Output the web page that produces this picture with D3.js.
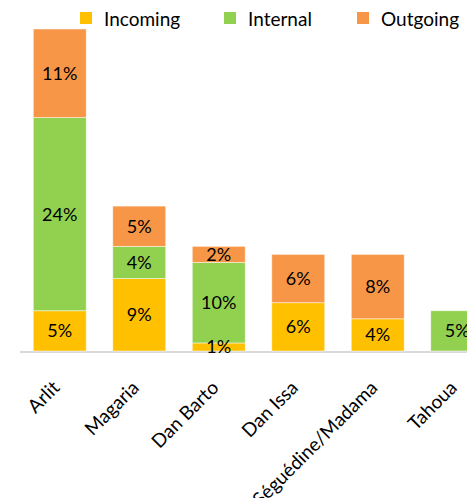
<!DOCTYPE html>
<html>
<head>
<meta charset="utf-8">
<script src="https://cdn.jsdelivr.net/npm/d3@7"></script>
<style>
  body { margin: 0; background: #fff; }
  svg { display: block; font-family: Lato, "Open Sans", sans-serif; }
</style>
</head>
<body>
<div id="chart"></div>
<script>
const WIDTH = 467;
const HEIGHT = 498;

const locations = ['Arlit', 'Magaria', 'Dan Barto', 'Dan Issa', 'Séguédine/Madama', 'Tahoua'];
const seriesNames = ['Incoming', 'Internal', 'Outgoing'];
const seriesColors = ['#FFC000', '#92D050', '#F79646'];

// percentages per location, 0 = no segment
const incoming = [5, 9, 1, 6, 4, 0];
const internal = [24, 4, 10, 0, 0, 5];
const outgoing = [11, 5, 2, 6, 8, 0];

let rows = locations.map(function(loc, i) {
  return {'loc': loc, 'Incoming': incoming[i], 'Internal': internal[i], 'Outgoing': outgoing[i]};
});

let svg = d3.select('#chart').append('svg')
    .attr('width', WIDTH)
    .attr('height', HEIGHT);

let xScale = d3.scaleBand()
    .domain(locations)
    .range([20, 497])
    .paddingInner(0.334)
    .paddingOuter(0.167);

let yScale = d3.scaleLinear()
    .domain([0, 40])
    .range([351, 29]);

let color = d3.scaleOrdinal().domain(seriesNames).range(seriesColors);

let stacked = d3.stack().keys(seriesNames)(rows);
let segments = [];
stacked.forEach(function(s) {
  s.forEach(function(d) {
    if (d[1] > d[0]) segments.push({'key': s.key, 'loc': d.data.loc, 'y0': d[0], 'y1': d[1]});
  });
});

// baseline, under the bars
svg.append('line')
    .attr('x1', 20).attr('x2', WIDTH)
    .attr('y1', yScale(0) + 1).attr('y2', yScale(0) + 1)
    .attr('stroke', '#d9d9d9')
    .attr('stroke-width', 2);

svg.append('g').selectAll('rect')
    .data(segments)
    .join('rect')
    .attr('x', function(d) { return xScale(d.loc); })
    .attr('y', function(d) { return yScale(d.y1); })
    .attr('width', xScale.bandwidth())
    .attr('height', function(d) { return yScale(d.y0) - yScale(d.y1); })
    .attr('fill', function(d) { return color(d.key); })
    .attr('stroke', '#fff')
    .attr('stroke-opacity', 0.6)
    .attr('stroke-width', 0.8);

// value labels on top of everything
svg.append('g').selectAll('text')
    .data(segments)
    .join('text')
    .attr('x', function(d) { return xScale(d.loc) + xScale.bandwidth() / 2; })
    .attr('y', function(d) { return (yScale(d.y0) + yScale(d.y1)) / 2; })
    .attr('dy', '0.36em')
    .attr('text-anchor', 'middle')
    .attr('fill', '#000')
    .attr('font-size', 18)
    .text(function(d) { return (d.y1 - d.y0) + '%'; });

// category labels
svg.append('g').selectAll('text')
    .data(locations)
    .join('text')
    .attr('transform', function(d) {
      return 'translate(' + (xScale(d) + xScale.bandwidth() / 2 + 1) + ',389) rotate(-45)';
    })
    .attr('text-anchor', 'end')
    .attr('font-size', 19)
    .attr('fill', '#000')
    .text(function(d) { return d; });

// legend
const legendX = [80, 224, 357];
let legend = svg.append('g').selectAll('g')
    .data(seriesNames)
    .join('g')
    .attr('transform', function(d, i) { return 'translate(' + legendX[i] + ',12)'; });

legend.append('rect')
    .attr('width', 12).attr('height', 12)
    .attr('fill', function(d) { return color(d); });

legend.append('text')
    .attr('x', 24)
    .attr('y', 13.5)
    .attr('font-size', 19)
    .attr('fill', '#000')
    .text(function(d) { return d; });
</script>
</body>
</html>
